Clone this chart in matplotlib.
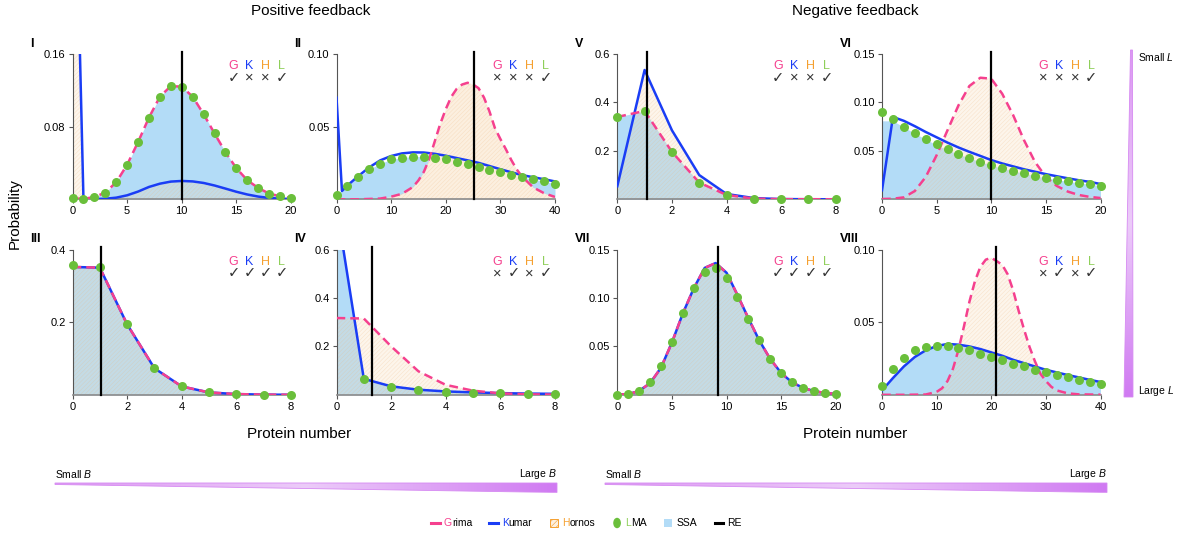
import numpy as np
import matplotlib.pyplot as plt
from matplotlib.colors import LinearSegmentedColormap
from matplotlib.patches import Polygon, Rectangle, Ellipse
from matplotlib.lines import Line2D
from matplotlib.offsetbox import DrawingArea, TextArea, HPacker, AnchoredOffsetbox

plt.rcParams['font.family'] = ['Liberation Sans', 'DejaVu Sans']
plt.rcParams['mathtext.fontset'] = 'custom'
plt.rcParams['mathtext.rm'] = 'Liberation Sans'
plt.rcParams['mathtext.it'] = 'Liberation Sans:italic'
plt.rcParams['hatch.linewidth'] = 0.4

# colores
PINK = '#f5408e'
BLUE = '#1a3df5'
ORANGE = '#f5a030'
GREEN = '#6abf3b'
LGREEN = '#8fcf5a'
SSA_BLUE = '#b3dcf7'
HORNOS_FACE = (0.98, 0.85, 0.70, 0.25)
HORNOS_HATCH = (0.93, 0.72, 0.50, 0.30)

# ---------------- datos ----------------
# Panel I (feedback positivo)
x_I = list(range(21))
lma_I = [0.001, 0.0005, 0.0025, 0.0074, 0.0188, 0.038, 0.063, 0.090, 0.113, 0.1247, 0.124,
         0.113, 0.0938, 0.0725, 0.0519, 0.0342, 0.021, 0.0125, 0.0063, 0.0033, 0.0015]
grima_I = lma_I
ssa_I = lma_I
kumar_I = [0.5, 0.0015, 0.0003, 0.0006, 0.0018, 0.0044, 0.0085, 0.0136, 0.0172, 0.0195, 0.0202,
           0.0197, 0.018, 0.0152, 0.0118, 0.0083, 0.0053, 0.003, 0.0015, 0.0007, 0.0003]
hornos_I = kumar_I
re_I = 10.0
marks_I = ['✓', '×', '×', '✓']

# Panel II
x_lma_II = list(range(0, 41, 2))
lma_II = [0.0028, 0.0092, 0.0154, 0.0207, 0.0246, 0.0274, 0.0287, 0.0294, 0.0294, 0.0285, 0.0274,
          0.026, 0.0241, 0.0223, 0.0205, 0.0188, 0.017, 0.0152, 0.0138, 0.0124, 0.0108]
ssa_II = lma_II
x_kumar_II = [0, 1] + list(range(2, 41, 2))
kumar_II = [0.070, 0.0057, 0.0095, 0.016, 0.022, 0.0268, 0.0298, 0.0316, 0.0323, 0.0322, 0.0313,
            0.030, 0.0284, 0.0268, 0.0251, 0.0229, 0.0207, 0.0186, 0.0166, 0.0152, 0.0138, 0.0123]
x_grima_II = [0, 4, 8, 10, 12, 14, 15, 16, 17, 18, 19, 20, 21, 22, 23, 24, 25, 26, 27, 28, 29, 30,
              31, 32, 33, 34, 36, 38, 40]
grima_II = [0.0, 0.0, 0.0005, 0.0018, 0.0038, 0.0085, 0.013, 0.019, 0.028, 0.040, 0.052, 0.062,
            0.0705, 0.076, 0.079, 0.0802, 0.079, 0.0765, 0.070, 0.0605, 0.049, 0.0415, 0.0345,
            0.027, 0.0205, 0.0155, 0.0082, 0.0042, 0.0016]
hornos_II = grima_II
re_II = 25.1
marks_II = ['×', '×', '×', '✓']

# Panel III
x_III = list(range(9))
lma_III = [0.356, 0.352, 0.194, 0.073, 0.023, 0.0065, 0.002, 0.0005, 0.0001]
exact_III = [0.352, 0.350, 0.194, 0.073, 0.023, 0.0065, 0.002, 0.0005, 0.0001]
re_III = 1.05
marks_III = ['✓', '✓', '✓', '✓']

# Panel IV
x_IV = list(range(9))
kumar_IV = [0.78, 0.066, 0.035, 0.021, 0.014, 0.010, 0.007, 0.005, 0.004]
ssa_IV = kumar_IV
x_lma_IV = list(range(1, 9))
lma_IV = [0.066, 0.033, 0.019, 0.012, 0.009, 0.006, 0.005, 0.004]
grima_IV = [0.317, 0.315, 0.200, 0.097, 0.041, 0.017, 0.006, 0.002, 0.001]
hornos_IV = grima_IV
re_IV = 1.3
marks_IV = ['×', '✓', '×', '✓']

# Panel V (feedback negativo)
x_V = list(range(9))
lma_V = [0.34, 0.365, 0.196, 0.069, 0.018, 0.003, 0.0005, 0.0003, 0.0002]
grima_V = lma_V
ssa_V = lma_V
kumar_V = [0.054, 0.534, 0.285, 0.100, 0.022, 0.005, 0.001, 0.0003, 0.0001]
hornos_V = kumar_V
re_V = 1.09
marks_V = ['✓', '×', '×', '✓']

# Panel VI
x_VI = list(range(21))
lma_VI = [0.090, 0.0824, 0.0748, 0.0686, 0.0624, 0.0566, 0.0517, 0.0469, 0.0428, 0.039, 0.0355,
          0.0324, 0.0297, 0.0269, 0.0245, 0.0224, 0.0204, 0.0187, 0.0173, 0.0158, 0.0142]
ssa_VI = [0.081, 0.081, 0.0745, 0.068, 0.062, 0.056, 0.051, 0.0465, 0.0425, 0.0388, 0.0352,
          0.032, 0.0294, 0.0267, 0.0243, 0.0222, 0.0202, 0.0185, 0.017, 0.0156, 0.014]
kumar_VI = [0.0093, 0.085, 0.081, 0.0755, 0.0695, 0.064, 0.0585, 0.0535, 0.049, 0.0448, 0.0405,
            0.037, 0.034, 0.031, 0.0285, 0.026, 0.0238, 0.0217, 0.0197, 0.018, 0.0158]
grima_VI = [0.0003, 0.0006, 0.002, 0.0085, 0.023, 0.0455, 0.0714, 0.097, 0.117, 0.1255, 0.1245,
            0.109, 0.087, 0.061, 0.0386, 0.0231, 0.0138, 0.008, 0.0045, 0.0025, 0.0013]
hornos_VI = grima_VI
re_VI = 10.0
marks_VI = ['×', '×', '×', '✓']

# Panel VII
x_VII = list(range(21))
lma_VII = [0.0003, 0.0006, 0.0044, 0.0134, 0.030, 0.055, 0.084, 0.110, 0.127, 0.1305, 0.1205,
           0.1014, 0.0784, 0.0565, 0.0373, 0.0229, 0.0134, 0.0075, 0.004, 0.002, 0.001]
exact_VII = [0.0003, 0.0006, 0.004, 0.012, 0.028, 0.054, 0.084, 0.110, 0.131, 0.136, 0.126,
             0.103, 0.079, 0.056, 0.037, 0.0225, 0.0128, 0.0072, 0.0038, 0.0019, 0.001]
re_VII = 9.2
marks_VII = ['✓', '✓', '✓', '✓']

# Panel VIII
x_VIII = list(range(0, 41, 2))
lma_VIII = [0.0062, 0.0177, 0.0255, 0.0306, 0.0329, 0.0338, 0.0333, 0.0322, 0.0306, 0.0283, 0.0262,
            0.0237, 0.0214, 0.0195, 0.0172, 0.0154, 0.0136, 0.012, 0.0103, 0.009, 0.0076]
kumar_VIII = [0.003, 0.0115, 0.0195, 0.026, 0.0306, 0.0336, 0.035, 0.0345, 0.0333, 0.0315, 0.0292,
              0.0269, 0.0241, 0.0218, 0.0195, 0.0172, 0.0154, 0.0136, 0.012, 0.0103, 0.0088]
ssa_VIII = kumar_VIII
x_grima_VIII = [0, 4, 8, 10, 11, 12, 13, 14, 15, 16, 17, 18, 19, 20, 21, 22, 23, 24, 25, 26, 27, 28,
                29, 30, 31, 32, 34, 36, 40]
grima_VIII = [0.0, 0.0, 0.0002, 0.002, 0.0045, 0.0095, 0.018, 0.031, 0.047, 0.064, 0.078, 0.088,
              0.093, 0.0943, 0.092, 0.0895, 0.083, 0.072, 0.058, 0.045, 0.033, 0.023, 0.0145,
              0.0095, 0.0055, 0.003, 0.001, 0.0003, 0.0001]
hornos_VIII = grima_VIII
re_VIII = 20.8
marks_VIII = ['×', '✓', '×', '✓']

# ---------------- figura ----------------
W, H = 1181, 535
fig = plt.figure(figsize=(W / 100, H / 100), dpi=100)

col_left = [72.5, 336.5, 617.3, 882]
row_top = [54, 249.5]
aw, ah = 218.5, 145.3

panels = [
    dict(name='I', col=0, row=0, xmax=20, ymax=0.16, xt=[0, 5, 10, 15, 20], yt=[0.08, 0.16],
         ytl=['0.08', '0.16'], ssa=(x_I, ssa_I), hornos=(x_I, hornos_I), kumar=(x_I, kumar_I),
         grima=(x_I, grima_I), lma=(x_I, lma_I), re=re_I, marks=marks_I, opaque=False),
    dict(name='II', col=1, row=0, xmax=40, ymax=0.10, xt=[0, 10, 20, 30, 40], yt=[0.05, 0.10],
         ytl=['0.05', '0.10'], ssa=(x_lma_II, ssa_II), hornos=(x_grima_II, hornos_II),
         kumar=(x_kumar_II, kumar_II), grima=(x_grima_II, grima_II), lma=(x_lma_II, lma_II),
         re=re_II, marks=marks_II, opaque=True),
    dict(name='III', col=0, row=1, xmax=8, ymax=0.4, xt=[0, 2, 4, 6, 8], yt=[0.2, 0.4],
         ytl=['0.2', '0.4'], ssa=(x_III, exact_III), hornos=(x_III, exact_III),
         kumar=(x_III, exact_III), grima=(x_III, exact_III), lma=(x_III, lma_III),
         re=re_III, marks=marks_III, opaque=False),
    dict(name='IV', col=1, row=1, xmax=8, ymax=0.6, xt=[0, 2, 4, 6, 8], yt=[0.2, 0.4, 0.6],
         ytl=['0.2', '0.4', '0.6'], ssa=(x_IV, ssa_IV), hornos=(x_IV, hornos_IV),
         kumar=(x_IV, kumar_IV), grima=(x_IV, grima_IV), lma=(x_lma_IV, lma_IV),
         re=re_IV, marks=marks_IV, opaque=False),
    dict(name='V', col=2, row=0, xmax=8, ymax=0.6, xt=[0, 2, 4, 6, 8], yt=[0.2, 0.4, 0.6],
         ytl=['0.2', '0.4', '0.6'], ssa=(x_V, ssa_V), hornos=(x_V, hornos_V),
         kumar=(x_V, kumar_V), grima=(x_V, grima_V), lma=(x_V, lma_V),
         re=re_V, marks=marks_V, opaque=False),
    dict(name='VI', col=3, row=0, xmax=20, ymax=0.15, xt=[0, 5, 10, 15, 20], yt=[0.05, 0.10, 0.15],
         ytl=['0.05', '0.10', '0.15'], ssa=(x_VI, ssa_VI), hornos=(x_VI, hornos_VI),
         kumar=(x_VI, kumar_VI), grima=(x_VI, grima_VI), lma=(x_VI, lma_VI),
         re=re_VI, marks=marks_VI, opaque=False),
    dict(name='VII', col=2, row=1, xmax=20, ymax=0.15, xt=[0, 5, 10, 15, 20], yt=[0.05, 0.10, 0.15],
         ytl=['0.05', '0.10', '0.15'], ssa=(x_VII, exact_VII), hornos=(x_VII, exact_VII),
         kumar=(x_VII, exact_VII), grima=(x_VII, exact_VII), lma=(x_VII, lma_VII),
         re=re_VII, marks=marks_VII, opaque=False),
    dict(name='VIII', col=3, row=1, xmax=40, ymax=0.10, xt=[0, 10, 20, 30, 40], yt=[0.05, 0.10],
         ytl=['0.05', '0.10'], ssa=(x_VIII, ssa_VIII), hornos=(x_grima_VIII, hornos_VIII),
         kumar=(x_VIII, kumar_VIII), grima=(x_grima_VIII, grima_VIII), lma=(x_VIII, lma_VIII),
         re=re_VIII, marks=marks_VIII, opaque=False),
]

letter_cols = [PINK, BLUE, ORANGE, LGREEN]

for p in panels:
    left = col_left[p['col']]
    top = row_top[p['row']]
    ax = fig.add_axes([left / W, (H - top - ah) / H, aw / W, ah / H])
    ax.patch.set_alpha(0)
    ax.set_xlim(0, p['xmax'])
    ax.set_ylim(0, p['ymax'])

    xs, ys = p['ssa']
    ax.fill_between(xs, 0, ys, color=SSA_BLUE, lw=0, zorder=1)
    xh, yh = p['hornos']
    if p['opaque']:
        ax.fill_between(xh, 0, yh, color='#fdf7ef', lw=0, zorder=1.5)
    ax.fill_between(xh, 0, yh, facecolor=HORNOS_FACE, edgecolor=HORNOS_HATCH,
                    hatch='////////', lw=0, zorder=2)
    ax.plot(*p['kumar'], color=BLUE, lw=1.8, zorder=3)
    ax.plot(*p['grima'], color=PINK, lw=1.8, dashes=(3.5, 2), zorder=4)
    ax.plot(*p['lma'], 'o', color=GREEN, ms=6.5, mew=0, zorder=5, clip_on=False)
    ax.plot([p['re'], p['re']], [0, p['ymax'] * 1.015], color='black', lw=1.6,
            zorder=6, clip_on=False)

    for s in ['top', 'right']:
        ax.spines[s].set_visible(False)
    ax.spines['left'].set_color('#555555')
    ax.spines['left'].set_bounds(0, p['ymax'])
    ax.spines['bottom'].set_color('#8a8a8a')
    ax.spines['bottom'].set_linewidth(1.2)
    ax.set_xticks(p['xt'])
    ax.set_yticks(p['yt'])
    ax.set_yticklabels(p['ytl'])
    ax.tick_params(length=3, width=0.8, color='#555555', labelsize=8, pad=2)

    # etiquetas G K H L
    for i, (letra, c) in enumerate(zip('GKHL', letter_cols)):
        ax.text(0.737 + i * 0.0735, 0.917, letra, color=c, fontsize=9,
                ha='center', va='center', transform=ax.transAxes)
        ax.text(0.737 + i * 0.0735, 0.835, p['marks'][i], color='#333333', fontsize=10.5,
                ha='center', va='center', transform=ax.transAxes)

    ax.text(-42 / aw, 1 + 10 / ah, p['name'], fontsize=9, fontweight='bold',
            ha='left', va='center', transform=ax.transAxes)

# capa superior para textos y cuñas
ov = fig.add_axes([0, 0, 1, 1], zorder=-1)
ov.set_xlim(0, W)
ov.set_ylim(H, 0)
ov.axis('off')

ov.text(311, 11, 'Positive feedback', fontsize=11, ha='center', va='center')
ov.text(855, 11, 'Negative feedback', fontsize=11, ha='center', va='center')
ov.text(15, 214, 'Probability', fontsize=11, ha='center', va='center', rotation=90)
ov.text(299, 434, 'Protein number', fontsize=11, ha='center', va='center')
ov.text(855, 434, 'Protein number', fontsize=11, ha='center', va='center')

cmap_w = LinearSegmentedColormap.from_list('cuña', ['#dc98f2', '#ecccf9', '#d07af2'])


def cuña(puntos, horizontal):
    poly = Polygon(puntos, closed=True, facecolor='none', edgecolor='#d68af2', lw=0.6)
    ov.add_patch(poly)
    xs = [q[0] for q in puntos]
    ys = [q[1] for q in puntos]
    grad = np.linspace(0, 1, 256)
    grad = grad[None, :] if horizontal else grad[:, None]
    im = ov.imshow(grad, cmap=cmap_w, aspect='auto',
                   extent=[min(xs), max(xs), max(ys), min(ys)], interpolation='bilinear')
    im.set_clip_path(poly)


cuña([(55, 483), (557, 483), (557, 492.5), (55, 484.5)], True)
cuña([(605, 483), (1107, 483), (1107, 492.5), (605, 484.5)], True)
cuña([(1130.5, 50), (1132.5, 50), (1133, 397), (1124, 397)], False)
ov.set_xlim(0, W)
ov.set_ylim(H, 0)

ov.text(55, 474, r'Small $B$', fontsize=7.5, ha='left', va='center')
ov.text(557, 474, r'Large $B$', fontsize=7.5, ha='right', va='center')
ov.text(605, 474, r'Small $B$', fontsize=7.5, ha='left', va='center')
ov.text(1107, 474, r'Large $B$', fontsize=7.5, ha='right', va='center')
ov.text(1138, 57, r'Small $L$', fontsize=7.5, ha='left', va='center')
ov.text(1138, 391, r'Large $L$', fontsize=7.5, ha='left', va='center')

# leyenda
leg_items = [('Grima', PINK, 'linea_dash'), ('Kumar', BLUE, 'linea'), ('Hornos', ORANGE, 'hornos'),
             ('LMA', LGREEN, 'punto'), ('SSA', 'black', 'ssa'), ('RE', 'black', 're')]
cajas = []
for nombre, col, tipo in leg_items:
    da = DrawingArea(7, 7, 0, 0)
    if tipo == 'linea_dash':
        da.add_artist(Line2D([0.5, 6.5], [3.5, 3.5], color=PINK, lw=2.2))
    elif tipo == 'linea':
        da.add_artist(Line2D([0.5, 6.5], [3.5, 3.5], color=BLUE, lw=2.2))
    elif tipo == 're':
        da.add_artist(Line2D([0.5, 6.5], [3.5, 3.5], color='black', lw=2.2))
    elif tipo == 'hornos':
        da.add_artist(Rectangle((0.5, 0.5), 6, 6, facecolor='#fdf0e0', edgecolor=ORANGE,
                                lw=0.7, hatch='//////'))
    elif tipo == 'punto':
        da.add_artist(Ellipse((3.5, 3.5), 4.5, 6.5, color=GREEN))
    elif tipo == 'ssa':
        da.add_artist(Rectangle((0.5, 0.5), 6, 6, facecolor=SSA_BLUE, lw=0))
    if tipo == 'ssa' or tipo == 're':
        texto = HPacker(children=[TextArea(nombre, textprops=dict(fontsize=7.5))], sep=0, pad=0)
    else:
        texto = HPacker(children=[TextArea(nombre[0], textprops=dict(fontsize=7.5, color=col)),
                                  TextArea(nombre[1:], textprops=dict(fontsize=7.5))], sep=0, pad=0)
    cajas.append(HPacker(children=[da, texto], sep=2.5, pad=0, align='center'))

leyenda = HPacker(children=cajas, sep=12, pad=0, align='center')
anc = AnchoredOffsetbox(loc='center', child=leyenda, frameon=False,
                        bbox_to_anchor=(586 / W, (H - 523) / H), bbox_transform=fig.transFigure)
fig.add_artist(anc)

fig.savefig('out.png', dpi=100)
